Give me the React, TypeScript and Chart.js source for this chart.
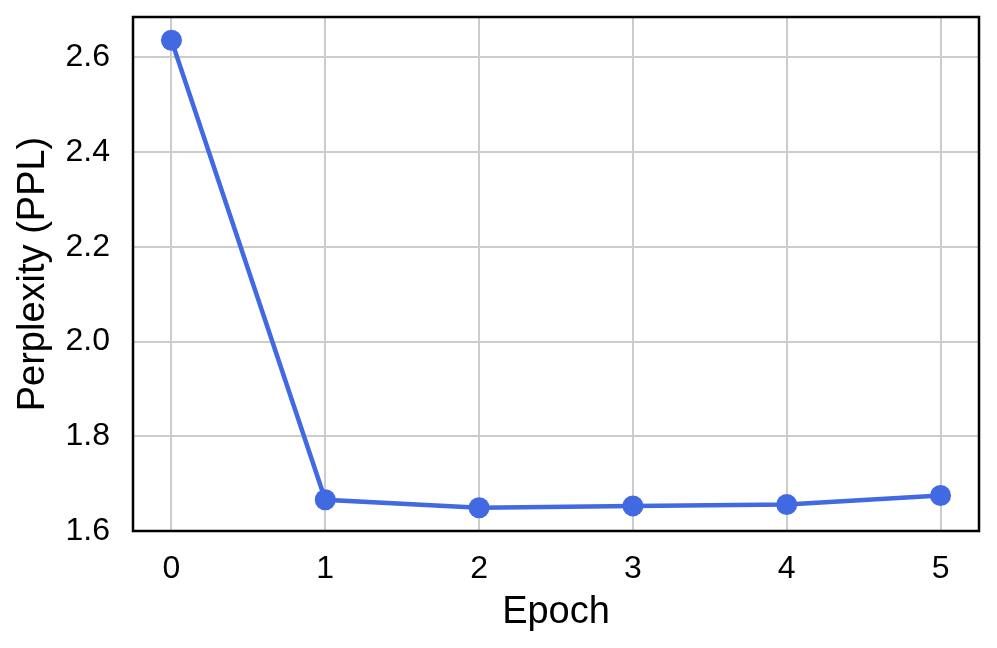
import React, { useEffect, useRef } from "react";
import { Chart, registerables } from "chart.js";

Chart.register(...registerables);

const epochs = [0, 1, 2, 3, 4, 5];
const perplexity = [2.636, 1.666, 1.649, 1.653, 1.656, 1.675];
const yTicks = [1.6, 1.8, 2.0, 2.2, 2.4, 2.6];

const FONT = "'Liberation Sans', Arial, Helvetica, sans-serif";

const frame = {
  id: "frame",
  afterDraw(chart: any) {
    const { ctx, chartArea } = chart;
    ctx.save();
    ctx.strokeStyle = "#000";
    ctx.lineWidth = 2.5;
    ctx.strokeRect(chartArea.left, chartArea.top, chartArea.right - chartArea.left, chartArea.bottom - chartArea.top);
    ctx.restore();
  },
};

export default function App() {
  const canvasRef = useRef<HTMLCanvasElement>(null);

  useEffect(() => {
    if (!canvasRef.current) return;
    const chart = new Chart(canvasRef.current, {
      type: "line",
      data: {
        datasets: [
          {
            data: epochs.map((e, i) => ({ x: e, y: perplexity[i] })),
            borderColor: "#4169e1",
            backgroundColor: "#4169e1",
            borderWidth: 4.5,
            pointRadius: 10.5,
            pointBorderWidth: 0,
            pointBackgroundColor: "#4169e1",
            tension: 0,
          },
        ],
      },
      options: {
        responsive: false,
        animation: false,
        layout: { padding: { top: 17, right: 18, left: 0, bottom: 0 } },
        plugins: { legend: { display: false }, tooltip: { enabled: false } },
        scales: {
          x: {
            type: "linear",
            min: -0.25,
            max: 5.25,
            afterBuildTicks: (s: any) => {
              s.ticks = epochs.map((v) => ({ value: v }));
            },
            afterFit: (s: any) => {
              s.height = 117;
              s.paddingLeft = 0;
              s.paddingRight = 0;
            },
            grid: { color: "#cccccc", lineWidth: 2, drawTicks: false },
            border: { display: false },
            ticks: {
              color: "#000",
              padding: 19,
              font: { family: FONT, size: 32 },
              callback: (v: any) => String(v),
            },
            title: {
              display: true,
              text: "Epoch",
              color: "#000",
              font: { family: FONT, size: 38 },
              padding: { top: 0, bottom: 13 },
            },
          },
          y: {
            min: 1.6,
            max: 2.685,
            afterBuildTicks: (s: any) => {
              s.ticks = yTicks.map((v) => ({ value: v }));
            },
            afterFit: (s: any) => {
              s.width = 133;
              s.paddingTop = 0;
              s.paddingBottom = 0;
            },
            grid: { color: "#cccccc", lineWidth: 2, drawTicks: false },
            border: { display: false },
            ticks: {
              color: "#000",
              padding: 23,
              font: { family: FONT, size: 32 },
              callback: (v: any) => Number(v).toFixed(1),
            },
            title: {
              display: true,
              text: "Perplexity (PPL)",
              color: "#000",
              font: { family: FONT, size: 38 },
              padding: { top: 11, bottom: 0 },
            },
          },
        },
      },
      plugins: [frame],
    });
    return () => chart.destroy();
  }, []);

  return (
    <div style={{ position: "fixed", left: 0, top: 0, width: 997, height: 648, background: "#fff" }}>
      <canvas ref={canvasRef} width={997} height={648} />
    </div>
  );
}
